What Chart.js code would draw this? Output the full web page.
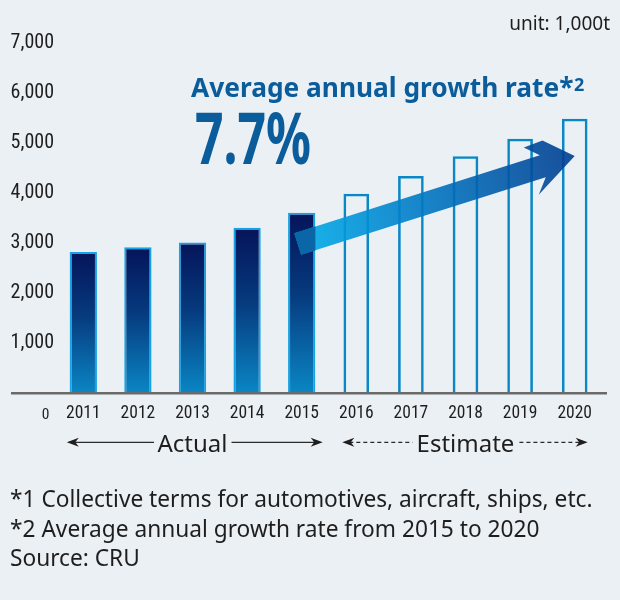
<!DOCTYPE html>
<html><head><meta charset="utf-8">
<script src="https://cdn.jsdelivr.net/npm/chart.js@4"></script>
<style>
html,body{margin:0;padding:0;background:#ebf0f5;}
#wrap{width:620px;height:600px;position:relative;}
canvas{display:block;}
</style>
</head><body>
<div id="wrap"><canvas id="c" width="620" height="600"></canvas></div>
<script>
// ---- data ----
const years = ['2011','2012','2013','2014','2015','2016','2017','2018','2019','2020'];
const actualValues   = [2820, 2915, 3010, 3305, 3605, null, null, null, null, null];
const estimateValues = [null, null, null, null, null, 3985, 4340, 4735, 5085, 5485];
const yTickStep = 1000;
const yMax = 7000;
const growthRate = '7.7%';
const headline = 'Average annual growth rate';
const unitLabel = 'unit: 1,000t';
const footnotes = [
  '*1 Collective terms for automotives, aircraft, ships, etc.',
  '*2 Average annual growth rate from 2015 to 2020',
  'Source: CRU'
];
// arrow annotation anchors (category index, value)
const arrowTail = {index: 4, value: 2980};
const arrowTip  = {index: 9, value: 4740};

const BG = '#ebf0f5';
const TEXT = '#1e1e1e';
const BLUE_TXT = '#0b5c9b';
const NUM_FONT = '"Roboto Condensed", "Noto Sans", sans-serif';
const SANS = '"Noto Sans", sans-serif';

function barGradient(c) {
  const chart = c.chart;
  const {ctx, chartArea, scales} = chart;
  if (!chartArea || c.type !== 'data' || c.raw == null) return '#063f82';
  const yTop = scales.y.getPixelForValue(c.raw);
  const yBot = scales.y.getPixelForValue(0);
  const g = ctx.createLinearGradient(0, yTop, 0, yBot);
  g.addColorStop(0, '#05145a');
  g.addColorStop(0.45, '#063a7e');
  g.addColorStop(1, '#0a86c4');
  return g;
}

function arrowHead(ctx, x, y, dir) {
  ctx.beginPath();
  ctx.moveTo(x, y);
  ctx.lineTo(x - dir * 12, y - 4.5);
  ctx.lineTo(x - dir * 8.5, y);
  ctx.lineTo(x - dir * 12, y + 4.5);
  ctx.closePath();
  ctx.fill();
}

const decor = {
  id: 'decor',
  beforeDraw(chart) {
    const ctx = chart.ctx;
    ctx.save();
    ctx.fillStyle = BG;
    ctx.fillRect(0, 0, chart.width, chart.height);
    ctx.restore();
  },
  afterDatasetsDraw(chart) {
    const {ctx, scales} = chart;
    const x = scales.x, y = scales.y;
    const y0 = y.getPixelForValue(0);

    // ---- big arrow ----
    const tx = x.getPixelForValue(arrowTail.index) - 4;
    const ty = y.getPixelForValue(arrowTail.value);
    const px = x.getPixelForValue(arrowTip.index);
    const py = y.getPixelForValue(arrowTip.value);
    const L = Math.hypot(px - tx, py - ty);
    const ux = (px - tx) / L, uy = (py - ty) / L;
    const nx = -uy, ny = ux;
    const h = 11.4;
    const pts = [
      [0, -h], [L - 33, -h], [L - 46, -23.5], [L - 26, -24.5], [L, 0],
      [L - 46, 26], [L - 34, h], [0, h]
    ].map(([u, n]) => [tx + ux * u + nx * n, ty + uy * u + ny * n]);
    const path = () => {
      ctx.beginPath();
      pts.forEach(([a, b], i) => i ? ctx.lineTo(a, b) : ctx.moveTo(a, b));
      ctx.closePath();
    };
    ctx.save();
    const g = ctx.createLinearGradient(tx, ty, px, py);
    g.addColorStop(0, '#00aeea');
    g.addColorStop(0.45, '#0079c4');
    g.addColorStop(1, '#003d90');
    ctx.globalAlpha = 0.9;
    ctx.fillStyle = g;
    path();
    ctx.fill();
    ctx.restore();

    // darker overlap where arrow crosses the 2015 bar
    const bar = chart.getDatasetMeta(0).data[arrowTail.index];
    if (bar) {
      ctx.save();
      ctx.beginPath();
      ctx.rect(bar.x - bar.width / 2, bar.y, bar.width, bar.base - bar.y);
      ctx.clip();
      ctx.fillStyle = '#0a66a6';
      path();
      ctx.fill();
      ctx.restore();
    }

    // ---- baseline axis line ----
    ctx.save();
    ctx.strokeStyle = '#6a6a6a';
    ctx.lineWidth = 2.4;
    ctx.beginPath();
    ctx.moveTo(11, y0 + 0.2);
    ctx.lineTo(607, y0 + 0.2);
    ctx.stroke();
    ctx.restore();
  },
  afterDraw(chart) {
    const {ctx, scales} = chart;
    const x = scales.x, y = scales.y;
    const y0 = y.getPixelForValue(0);
    ctx.save();

    // unit label
    ctx.fillStyle = TEXT;
    ctx.font = '19px ' + SANS;
    ctx.textAlign = 'right';
    ctx.textBaseline = 'alphabetic';
    ctx.fillText(unitLabel, 610, 30);

    // "0" label
    ctx.font = '15.5px ' + NUM_FONT;
    ctx.textAlign = 'center';
    ctx.fillText('0', chart.chartArea.left - 10.5, y0 + 26);

    // headline
    ctx.fillStyle = BLUE_TXT;
    ctx.textAlign = 'left';
    ctx.font = 'bold 26.3px ' + SANS;
    ctx.fillText(headline, 191, 97);
    let hx = 191 + ctx.measureText(headline).width;
    ctx.fillText('*', hx, 97);
    hx += ctx.measureText('*').width + 0.5;
    ctx.font = 'bold 18px ' + SANS;
    ctx.fillText('2', hx, 91);

    // big rate
    ctx.font = 'bold 71px ' + SANS;
    const w = ctx.measureText(growthRate).width;
    const sx = 116 / w;
    ctx.save();
    ctx.translate(195, 164);
    ctx.scale(sx, 1);
    ctx.fillText(growthRate, 0, 0);
    ctx.restore();

    // period labels with arrows
    ctx.fillStyle = TEXT;
    ctx.strokeStyle = '#2a2a2a';
    ctx.lineWidth = 1.2;
    ctx.font = '24px ' + SANS;
    ctx.textAlign = 'center';
    const ay = y0 + 49.3, tyb = y0 + 58.7;
    const aL = x.getPixelForValue(0) - 16.5, aR = x.getPixelForValue(4) + 21;
    const aC = (x.getPixelForValue(0) + x.getPixelForValue(4)) / 2;
    ctx.fillText('Actual', aC, tyb);
    const aw = ctx.measureText('Actual').width;
    ctx.beginPath();
    ctx.moveTo(aL + 6, ay); ctx.lineTo(aC - aw / 2 - 3.5, ay);
    ctx.moveTo(aC + aw / 2 + 4, ay); ctx.lineTo(aR - 6, ay);
    ctx.stroke();
    arrowHead(ctx, aL, ay, -1);
    arrowHead(ctx, aR, ay, 1);
    const eL = x.getPixelForValue(5) - 14, eR = x.getPixelForValue(9) + 13;
    const eC = (x.getPixelForValue(5) + x.getPixelForValue(9)) / 2;
    ctx.fillText('Estimate', eC, tyb);
    const ew = ctx.measureText('Estimate').width;
    ctx.setLineDash([4, 3]);
    ctx.beginPath();
    ctx.moveTo(eL + 7, ay); ctx.lineTo(eC - ew / 2 - 4, ay);
    ctx.moveTo(eC + ew / 2 + 5, ay); ctx.lineTo(eR - 7, ay);
    ctx.stroke();
    ctx.setLineDash([]);
    arrowHead(ctx, eL, ay, -1);
    arrowHead(ctx, eR, ay, 1);

    // footnotes
    ctx.textAlign = 'left';
    ctx.font = '22.7px ' + SANS;
    const fy = [507, 536.5, 566];
    footnotes.forEach((t, i) => ctx.fillText(t, 10, fy[i]));
    ctx.restore();
  }
};

new Chart(document.getElementById('c'), {
  type: 'bar',
  data: {
    labels: years,
    datasets: [
      {
        label: 'Actual',
        data: actualValues,
        backgroundColor: barGradient,
        borderColor: '#17a2e6',
        borderWidth: 2,
        borderSkipped: 'start',
        grouped: false,
        barPercentage: 0.5,
        categoryPercentage: 1
      },
      {
        label: 'Estimate',
        data: estimateValues,
        backgroundColor: 'rgba(0,0,0,0)',
        borderColor: '#0a88c6',
        borderWidth: 2.6,
        borderSkipped: 'start',
        grouped: false,
        barPercentage: 0.47,
        categoryPercentage: 1
      }
    ]
  },
  options: {
    responsive: false,
    animation: false,
    devicePixelRatio: 1,
    layout: {padding: {left: 0, right: 18, top: 43, bottom: 167}},
    plugins: {legend: {display: false}, tooltip: {enabled: false}},
    scales: {
      x: {
        type: 'category',
        grid: {display: false, drawTicks: false},
        border: {display: false},
        ticks: {
          color: TEXT,
          font: {family: NUM_FONT, size: 17.5},
          padding: 10.5,
          autoSkip: false,
          maxRotation: 0
        },
        afterFit(s) { s.height = 40; }
      },
      y: {
        min: 0,
        max: yMax,
        grid: {display: false, drawTicks: false},
        border: {display: false},
        ticks: {
          stepSize: yTickStep,
          color: TEXT,
          font: {family: NUM_FONT, size: 20},
          padding: 2,
          callback: v => v === 0 ? '' : v.toLocaleString('en-US')
        },
        afterFit(s) { s.width = 56; }
      }
    }
  },
  plugins: [decor]
});
</script>
</body></html>
